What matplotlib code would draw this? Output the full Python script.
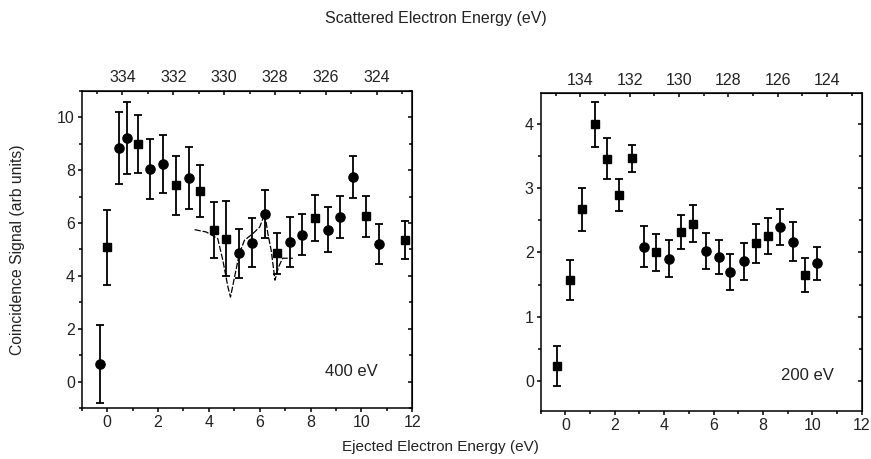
import matplotlib
matplotlib.use('Agg')
import matplotlib.pyplot as plt
from matplotlib.ticker import MultipleLocator

plt.rcParams['font.family'] = ['Liberation Sans', 'DejaVu Sans']

# 400 eV incident energy (left panel)
x400 = [-0.30, 0.00, 0.48, 0.79, 1.21, 1.69, 2.18, 2.69, 3.20, 3.67, 4.19, 4.68, 5.17,
        5.68, 6.19, 6.68, 7.18, 7.68, 8.17, 8.69, 9.17, 9.67, 10.17, 10.69, 11.70]
y400 = [0.67, 5.09, 8.85, 9.22, 9.00, 8.05, 8.23, 7.42, 7.70, 7.21, 5.74, 5.41, 4.85,
        5.25, 6.33, 4.85, 5.28, 5.56, 6.20, 5.75, 6.23, 7.74, 6.25, 5.22, 5.35]
e400 = [1.47, 1.42, 1.36, 1.35, 1.10, 1.13, 1.10, 1.10, 1.16, 1.00, 1.05, 1.43, 0.93,
        0.93, 0.90, 0.77, 0.93, 0.78, 0.87, 0.86, 0.80, 0.80, 0.78, 0.76, 0.71]
m400 = ['o', 's', 'o', 'o', 's', 'o', 'o', 's', 'o', 's', 's', 's', 'o',
        'o', 'o', 's', 'o', 'o', 's', 'o', 'o', 'o', 's', 'o', 's']

# theory curve on the 400 eV panel
tx = [3.44, 3.90, 4.35, 4.55, 4.75, 4.85, 5.01, 5.20, 5.40, 5.73, 6.00, 6.20,
      6.32, 6.45, 6.60, 6.74, 6.90, 7.30]
ty = [5.75, 5.66, 5.41, 4.59, 3.58, 3.20, 3.96, 4.85, 5.35, 5.60, 5.85, 6.36,
      5.60, 4.97, 3.84, 4.34, 4.67, 4.67]

# 200 eV incident energy (right panel)
x200 = [-0.33, 0.17, 0.68, 1.19, 1.69, 2.17, 2.68, 3.20, 3.67, 4.21, 4.70, 5.17,
        5.70, 6.22, 6.68, 7.22, 7.72, 8.20, 8.70, 9.23, 9.69, 10.20]
y200 = [0.23, 1.57, 2.67, 4.00, 3.46, 2.90, 3.47, 2.09, 2.00, 1.90, 2.32, 2.45,
        2.02, 1.93, 1.69, 1.86, 2.14, 2.25, 2.40, 2.17, 1.65, 1.83]
e200 = [0.31, 0.31, 0.33, 0.35, 0.32, 0.25, 0.21, 0.32, 0.29, 0.29, 0.27, 0.29,
        0.28, 0.27, 0.28, 0.29, 0.31, 0.28, 0.28, 0.30, 0.26, 0.26]
m200 = ['s', 's', 's', 's', 's', 's', 's', 'o', 's', 'o', 's', 's',
        'o', 'o', 'o', 'o', 's', 's', 'o', 'o', 's', 'o']

top400 = [324, 326, 328, 330, 332, 334]
top200 = [124, 126, 128, 130, 132, 134]

TXT = '#222222'


def draw_points(ax, xs, ys, es, ms):
    ax.errorbar(xs, ys, yerr=es, fmt='none', ecolor='black', elinewidth=1.3,
                capsize=2.8, capthick=1.3, zorder=3)
    for x, y, m in zip(xs, ys, ms):
        ax.plot(x, y, marker=m, color='black', markersize=5.8 if m == 's' else 6.6,
                linestyle='none', zorder=4)


def style_axes(ax, ylim, ymaj, ymin_, offset, top_ticks):
    ax.set_xlim(-1, 12)
    ax.set_ylim(*ylim)
    ax.xaxis.set_major_locator(MultipleLocator(2))
    ax.xaxis.set_minor_locator(MultipleLocator(1))
    ax.yaxis.set_major_locator(MultipleLocator(ymaj))
    ax.yaxis.set_minor_locator(MultipleLocator(ymin_))
    ax.tick_params(which='major', direction='out', length=3, width=1.1,
                   labelsize=11.5, labelcolor=TXT, pad=2)
    ax.tick_params(which='minor', direction='out', length=2, width=1.1)
    for s in ax.spines.values():
        s.set_linewidth(1.1)

    sec = ax.secondary_xaxis('top', functions=(lambda x: offset - x, lambda s: offset - s))
    sec.set_xticks(top_ticks)
    sec.xaxis.set_minor_locator(MultipleLocator(1))
    sec.tick_params(which='major', direction='in', length=3, width=1.1,
                    labelsize=11.5, labelcolor=TXT, pad=4)
    sec.tick_params(which='minor', direction='in', length=2, width=1.1)

    rt = ax.secondary_yaxis('right', functions=(lambda y: y, lambda y: y))
    rt.yaxis.set_major_locator(MultipleLocator(ymaj))
    rt.yaxis.set_minor_locator(MultipleLocator(ymin_))
    rt.tick_params(which='major', direction='in', length=3, width=1.1, labelright=False)
    rt.tick_params(which='minor', direction='in', length=2, width=1.1)


fig = plt.figure(figsize=(8.71, 4.59), dpi=100)

ax1 = fig.add_axes([0.0938, 0.1105, 0.3796, 0.6919])
ax1.plot(tx, ty, color='black', linewidth=0.9, linestyle=(0, (5, 1.5)), zorder=2)
draw_points(ax1, x400, y400, e400, m400)
style_axes(ax1, (-1, 11), 2, 1, 334.6, top400)
ax1.text(0.817, 0.115, '400 eV', transform=ax1.transAxes, ha='center', va='center',
         fontsize=12, color=TXT)

ax2 = fig.add_axes([0.6208, 0.1046, 0.3685, 0.6922])
draw_points(ax2, x200, y200, e200, m200)
style_axes(ax2, (-0.47, 4.48), 1, 0.5, 134.6, top200)
ax2.text(0.83, 0.113, '200 eV', transform=ax2.transAxes, ha='center', va='center',
         fontsize=12, color=TXT)

fig.text(436 / 871, 1 - 19 / 459, 'Scattered Electron Energy (eV)', ha='center', va='center',
         fontsize=11.5, color=TXT)
fig.text(440 / 871, 1 - 447 / 459, 'Ejected Electron Energy (eV)', ha='center', va='center',
         fontsize=11, color=TXT)
fig.text(18 / 871, 1 - 250 / 459, 'Coincidence Signal (arb units)', ha='center', va='center',
         rotation=90, fontsize=11.3, color=TXT)

fig.savefig('out.png', dpi=100)
